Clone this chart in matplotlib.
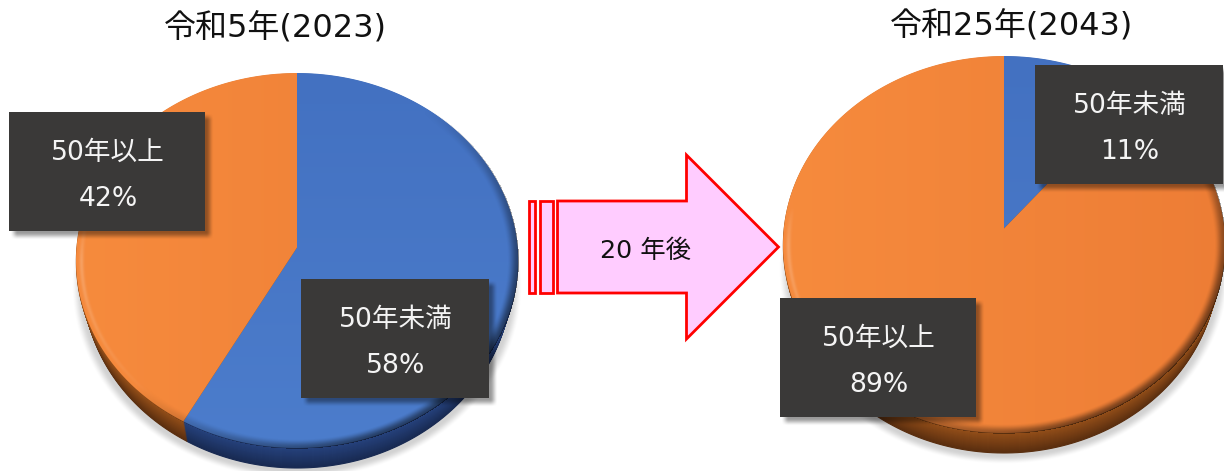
import numpy as np
import matplotlib
matplotlib.use("Agg")
import matplotlib.pyplot as plt
from matplotlib.patches import Polygon, Rectangle
from matplotlib.path import Path
from matplotlib.transforms import Affine2D, Transform

# Latin digits come from DejaVu, kanji from the CJK family
plt.rcParams['font.family'] = ['DejaVu Sans', 'Noto Sans CJK JP']

# Share of structures by age
categories = ["50年未満", "50年以上"]
values_2023 = [58, 42]
values_2043 = [11, 89]
title_2023 = "令和5年(2023)"
title_2043 = "令和25年(2043)"
arrow_label = "20 年後"

W, H = 1224, 471
fig = plt.figure(figsize=(W / 100, H / 100), dpi=100)
ax = fig.add_axes([0, 0, 1, 1])

BLUE_TOP, BLUE_BOTTOM = (0.263, 0.443, 0.757), (0.298, 0.490, 0.800)
ORANGE_LEFT, ORANGE_RIGHT = (0.965, 0.545, 0.240), (0.930, 0.490, 0.210)
SIDE = {"blue": ((0.15, 0.26, 0.49), (0.095, 0.165, 0.32)),
        "orange": ((0.58, 0.31, 0.10), (0.35, 0.18, 0.06))}
FORESHORTEN = 0.08


class TiltedDisc(Transform):
    """Maps the unit pie onto a tilted disc, with the hub pushed away from the viewer."""
    input_dims = output_dims = 2
    has_inverse = False
    is_affine = False

    def __init__(self, cx, cy, rx, ry, hub_lift, drop=0.0):
        super().__init__()
        self.p = (cx, cy, rx, ry, hub_lift, drop)

    def transform_non_affine(self, xy):
        cx, cy, rx, ry, lift, drop = self.p
        xy = np.asarray(xy, float)
        r = np.clip(np.hypot(xy[:, 0], xy[:, 1]), 0, 1)
        safe = np.maximum(r, 1e-9)
        # directions lean away from the viewer, the rim itself stays in place
        v = xy[:, 1] / safe
        v = np.clip(v + FORESHORTEN * (1 - v ** 2), -1, 1)
        u = np.sign(xy[:, 0]) * np.sqrt(1 - v ** 2)
        # lower layers of the rim recede slightly
        sx = rx - 0.35 * drop
        return np.column_stack([cx + sx * r * u,
                                cy - ry * r * v - lift * (1 - r) + drop])

    def transform_path_non_affine(self, path):
        polys = path.transformed(Affine2D().scale(2000)).to_polygons(closed_only=True)
        verts = np.vstack(polys) / 2000.0
        return Path(self.transform_non_affine(verts), closed=True)


def smooth(t):
    t = np.clip(t, 0, 1)
    return t * t * (3 - 2 * t)


def overlay(rgba, x0, x1, y0, y1, z):
    ax.imshow(rgba, extent=(x0, x1, y1, y0), origin="upper", aspect="auto",
              interpolation="bilinear", zorder=z)


def grid(x0, x1, y0, y1):
    return np.meshgrid(np.arange(x0, x1) + 0.5, np.arange(y0, y1) + 0.5)


def draw_pie(values, colors, side_keys, cx, cy, rx, ry, lift, depth):
    # soft ground shadow under the disc
    x0, x1, y0, y1 = int(cx - rx - 20), int(cx + rx + 20), int(cy - ry), min(H, int(cy + ry + depth + 30))
    X, Y = grid(x0, x1, y0, y1)
    rho = np.hypot((X - cx) / (rx - 3), (Y - (cy + depth + 5)) / ry)
    shade = np.zeros(X.shape + (4,))
    shade[..., 3] = 0.18 * smooth((1.035 - rho) / 0.05)
    overlay(shade, x0, x1, y0, y1, 1)

    # extruded rim, stacked from the bottom up
    for k in range(depth, 0, -1):
        t = k / depth
        cols = [tuple(np.array(SIDE[s][0]) * (1 - t) + np.array(SIDE[s][1]) * t) for s in side_keys]
        wedges, _ = ax.pie(values, colors=cols, startangle=90, counterclock=False,
                           wedgeprops=dict(linewidth=0.8, zorder=2), frame=True)
        for w, c in zip(wedges, cols):
            w.set_edgecolor(c)
            w.set_transform(TiltedDisc(cx, cy, rx, ry, lift, k) + ax.transData)

    # top face with a faint gradient inside every wedge
    wedges, _ = ax.pie(values, colors=["none"] * len(values), startangle=90, counterclock=False,
                       wedgeprops=dict(linewidth=0, zorder=3), frame=True)
    x0, x1, y0, y1 = int(cx - rx - 2), int(cx + rx + 2), int(cy - ry - 2), int(cy + ry + 2)
    X, Y = grid(x0, x1, y0, y1)
    for w, c in zip(wedges, colors):
        w.set_transform(TiltedDisc(cx, cy, rx, ry, lift) + ax.transData)
        if c == "blue":
            t = ((Y - y0) / (y1 - y0))[..., None]
            img = np.array(BLUE_TOP) * (1 - t) + np.array(BLUE_BOTTOM) * t
        else:
            t = ((X - x0) / (x1 - x0))[..., None]
            img = np.array(ORANGE_LEFT) * (1 - t) + np.array(ORANGE_RIGHT) * t
        im = ax.imshow(img, extent=(x0, x1, y1, y0), origin="upper", aspect="auto",
                       interpolation="bilinear", zorder=3)
        im.set_clip_path(w)

    # bevel: light on the lower left of the rim, dark on the lower right
    dx, dy = (X - cx) / rx, (Y - cy) / ry
    rho = np.hypot(dx, dy)
    ring = smooth((rho - 0.95) / 0.05) * (rho <= 1.004)
    dot = (dx * 0.75 + dy * 0.66) / np.maximum(rho, 1e-6)
    dark = ring * np.clip(dot + 0.1, 0, 1) * 0.5
    band = np.exp(-((rho - 0.975) / 0.010) ** 2) * (rho <= 1.004)
    light = band * np.clip(-dot, 0, 1) * np.clip(dy / 0.2 + 1, 0, 1) * 0.25
    bev = np.zeros(X.shape + (4,))
    bev[..., :3] = (light / np.maximum(light + dark, 1e-6))[..., None]
    bev[..., 3] = np.clip(light + dark, 0, 1)
    overlay(bev, x0, x1, y0, y1, 4)


def draw_box(x0, y0, x1, y1, line1, line2):
    # blurred drop shadow and the dark label plate
    pad, off, blur = 12, 5, 8.0
    gx0, gx1, gy0, gy1 = max(0, x0 - pad), min(W, x1 + pad + off), max(0, y0 - pad), min(H, y1 + pad + off)
    X, Y = grid(gx0, gx1, gy0, gy1)
    a = (smooth((X - x0 - off + blur / 2) / blur) * smooth((x1 + off - X + blur / 2) / blur)
         * smooth((Y - y0 - off + blur / 2) / blur) * smooth((y1 + off - Y + blur / 2) / blur))
    sh = np.zeros(X.shape + (4,))
    sh[..., 3] = 0.40 * a
    overlay(sh, gx0, gx1, gy0, gy1, 5)
    ax.add_patch(Rectangle((x0, y0), x1 - x0, y1 - y0, facecolor="#3a3938", edgecolor="none", zorder=6))
    xc = (x0 + x1) / 2
    ax.text(xc + 1, y0 + 41, line1, color="#f4f4f4", fontsize=19.2, ha="center", va="center", zorder=7)
    ax.text(xc + 1, y0 + 87, line2, color="#f4f4f4", fontsize=19.2, ha="center", va="center", zorder=7)


# 2023 disc and labels
draw_pie(values_2023, ["blue", "orange"], ["blue", "orange"], 297, 260.5, 221, 187.5, 13, 20)
draw_box(301, 279, 489, 398, categories[0], f"{values_2023[0]}%")
draw_box(9, 112, 205, 231, categories[1], f"{values_2023[1]}%")

# 2043 disc and labels
draw_pie(values_2043, ["blue", "orange"], ["blue", "orange"], 1004, 244.5, 221, 188.5, 16, 20)
draw_box(1035, 65, 1223, 184, categories[0], f"{values_2043[0]}%")
draw_box(780, 298, 976, 417, categories[1], f"{values_2043[1]}%")

# striped block arrow between the two years
arrow_style = dict(facecolor="#ffccff", edgecolor="#ff0000", linewidth=2.0, joinstyle="miter", zorder=8)
ax.add_patch(Rectangle((528.5, 201), 6.5, 92, **arrow_style))
ax.add_patch(Rectangle((540, 201), 12.5, 92, **arrow_style))
ax.add_patch(Polygon([(557.5, 201), (686.5, 201), (686.5, 155), (778.5, 247),
                      (686.5, 339), (686.5, 293), (557.5, 293)], closed=True, **arrow_style))
ax.text(646, 251, arrow_label, color="#111111", fontsize=18.3, ha="center", va="center", zorder=9)

ax.text(275.5, 29, title_2023, color="#111111", fontsize=23, ha="center", va="center", zorder=9)
ax.text(1012, 27, title_2043, color="#111111", fontsize=23, ha="center", va="center", zorder=9)

ax.set_aspect("auto")
ax.set_xlim(0, W)
ax.set_ylim(H, 0)
ax.axis("off")
fig.savefig("out.png", dpi=100, facecolor="white")
